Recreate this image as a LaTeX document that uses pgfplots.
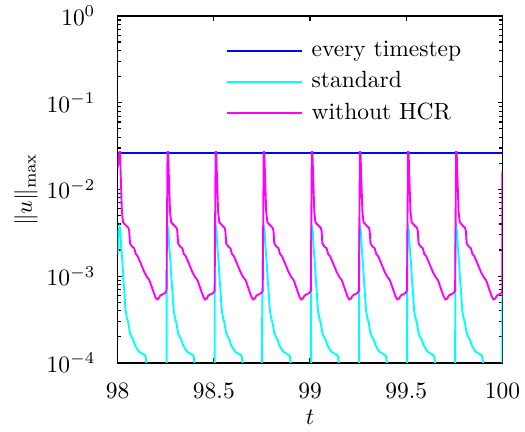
\documentclass[border=0pt]{standalone}
\usepackage{pgfplots}
\pgfplotsset{compat=1.18}
\definecolor{mblue}{rgb}{0,0,1}
\definecolor{mcyan}{rgb}{0,1,1}
\definecolor{mmagenta}{rgb}{1,0,1}

\begin{document}
\begin{tikzpicture}
\begin{semilogyaxis}[
scale only axis,
width=163.8pt,
height=147.7pt,
xmin=98, xmax=100,
ymin=1e-4, ymax=1,
xtick={98,98.5,99,99.5,100},
xticklabels={98,98.5,99,99.5,100},
xlabel={$t$},
ylabel={$\|u\|_{\max}$},
xlabel style={at={(axis description cs:0.5,-0.158)},anchor=center},
ylabel style={at={(axis description cs:-0.238,0.5)},anchor=center},
xticklabel style={yshift=-5pt},
yticklabel style={xshift=-6pt},
major tick length=2pt,
minor tick length=1.4pt,
tick style={black, line width=0.5pt},
axis line style={line width=0.6pt},
legend style={draw=none, fill=none, at={(axis description cs:0.263,0.955)}, anchor=north west, row sep=0.8pt},
legend cell align=left,
legend image code/.code={\draw[#1] (0pt,0pt) -- (32pt,0pt); \path (33.5pt,0pt);},
every axis plot/.append style={line width=0.8pt},
]
% every timestep
\addplot[color=mblue] coordinates {(98,0.026) (100,0.026)};
\addlegendentry{every timestep}

% standard
\addplot[color=mcyan] coordinates {
(98.000,0.0018) (98.005,0.0034)
(98.010,0.0037) (98.014,0.0033) (98.018,0.0022) (98.024,0.0015) (98.030,0.0009) (98.034,0.0007)
(98.041,0.0004) (98.048,0.00033) (98.055,0.00029) (98.064,0.00022) (98.072,0.0002) (98.081,0.000185)
(98.090,0.00016) (98.099,0.000148) (98.110,0.000135) (98.125,0.000129) (98.142,0.000123) (98.146,0.000115)
(98.152,0.00009) (98.160,0.00005)
(98.254,0.00005) (98.255,0.0034)
(98.260,0.0037) (98.264,0.0033) (98.268,0.0022) (98.274,0.0015) (98.280,0.0009) (98.284,0.0007)
(98.291,0.0004) (98.298,0.00033) (98.305,0.00029) (98.314,0.00022) (98.322,0.0002) (98.331,0.000185)
(98.340,0.00016) (98.349,0.000148) (98.360,0.000135) (98.375,0.000129) (98.392,0.000123) (98.396,0.000115)
(98.402,0.00009) (98.410,0.00005)
(98.504,0.00005) (98.505,0.0034)
(98.510,0.0037) (98.514,0.0033) (98.518,0.0022) (98.524,0.0015) (98.530,0.0009) (98.534,0.0007)
(98.541,0.0004) (98.548,0.00033) (98.555,0.00029) (98.564,0.00022) (98.572,0.0002) (98.581,0.000185)
(98.590,0.00016) (98.599,0.000148) (98.610,0.000135) (98.625,0.000129) (98.642,0.000123) (98.646,0.000115)
(98.652,0.00009) (98.660,0.00005)
(98.748,0.00005) (98.755,0.0034)
(98.760,0.0037) (98.764,0.0033) (98.768,0.0022) (98.774,0.0015) (98.780,0.0009) (98.784,0.0007)
(98.791,0.0004) (98.798,0.00033) (98.805,0.00029) (98.814,0.00022) (98.822,0.0002) (98.831,0.000185)
(98.840,0.00016) (98.849,0.000148) (98.860,0.000135) (98.875,0.000129) (98.892,0.000123) (98.896,0.000115)
(98.902,0.00009) (98.910,0.00005)
(99.004,0.00005) (99.005,0.0034)
(99.010,0.0037) (99.014,0.0033) (99.018,0.0022) (99.024,0.0015) (99.030,0.0009) (99.034,0.0007)
(99.041,0.0004) (99.048,0.00033) (99.055,0.00029) (99.064,0.00022) (99.072,0.0002) (99.081,0.000185)
(99.090,0.00016) (99.099,0.000148) (99.110,0.000135) (99.125,0.000129) (99.142,0.000123) (99.146,0.000115)
(99.152,0.00009) (99.160,0.00005)
(99.254,0.00005) (99.255,0.0034)
(99.260,0.0037) (99.264,0.0033) (99.268,0.0022) (99.274,0.0015) (99.280,0.0009) (99.284,0.0007)
(99.291,0.0004) (99.298,0.00033) (99.305,0.00029) (99.314,0.00022) (99.322,0.0002) (99.331,0.000185)
(99.340,0.00016) (99.349,0.000148) (99.360,0.000135) (99.375,0.000129) (99.392,0.000123) (99.396,0.000115)
(99.402,0.00009) (99.410,0.00005)
(99.504,0.00005) (99.505,0.0034)
(99.510,0.0037) (99.514,0.0033) (99.518,0.0022) (99.524,0.0015) (99.530,0.0009) (99.534,0.0007)
(99.541,0.0004) (99.548,0.00033) (99.555,0.00029) (99.564,0.00022) (99.572,0.0002) (99.581,0.000185)
(99.590,0.00016) (99.599,0.000148) (99.610,0.000135) (99.625,0.000129) (99.642,0.000123) (99.646,0.000115)
(99.652,0.00009) (99.660,0.00005)
(99.754,0.00005) (99.755,0.0034)
(99.760,0.0037) (99.764,0.0033) (99.768,0.0022) (99.774,0.0015) (99.780,0.0009) (99.784,0.0007)
(99.791,0.0004) (99.798,0.00033) (99.805,0.00029) (99.814,0.00022) (99.822,0.0002) (99.831,0.000185)
(99.840,0.00016) (99.849,0.000148) (99.860,0.000135) (99.875,0.000129) (99.892,0.000123) (99.896,0.000115)
(99.902,0.00009) (99.910,0.00005)
(99.9995,0.00005) (100.000,0.00064)
};
\addlegendentry{standard}

% without HCR
\addplot[color=mmagenta] coordinates {
(98.000,0.018)
(98.009,0.027) (98.012,0.027) (98.017,0.012) (98.022,0.0055) (98.028,0.0042) (98.036,0.0040)
(98.046,0.0038) (98.056,0.0036) (98.060,0.0033) (98.064,0.0024) (98.074,0.0022) (98.086,0.0021)
(98.094,0.0018) (98.104,0.0017) (98.120,0.0014) (98.138,0.00112) (98.152,0.00098) (98.165,0.0009)
(98.180,0.00072) (98.195,0.00058) (98.203,0.00054) (98.212,0.00055) (98.222,0.0006) (98.235,0.00062)
(98.246,0.00064)
(98.254,0.00068) (98.259,0.027) (98.262,0.027) (98.267,0.012) (98.272,0.0055) (98.278,0.0042) (98.286,0.0040)
(98.296,0.0038) (98.306,0.0036) (98.310,0.0033) (98.314,0.0024) (98.324,0.0022) (98.336,0.0021)
(98.344,0.0018) (98.354,0.0017) (98.370,0.0014) (98.388,0.00112) (98.402,0.00098) (98.415,0.0009)
(98.430,0.00072) (98.445,0.00058) (98.453,0.00054) (98.462,0.00055) (98.472,0.0006) (98.485,0.00062)
(98.496,0.00064)
(98.504,0.00068) (98.509,0.027) (98.512,0.027) (98.517,0.012) (98.522,0.0055) (98.528,0.0042) (98.536,0.0040)
(98.546,0.0038) (98.556,0.0036) (98.560,0.0033) (98.564,0.0024) (98.574,0.0022) (98.586,0.0021)
(98.594,0.0018) (98.604,0.0017) (98.620,0.0014) (98.638,0.00112) (98.652,0.00098) (98.665,0.0009)
(98.680,0.00072) (98.695,0.00058) (98.703,0.00054) (98.712,0.00055) (98.722,0.0006) (98.735,0.00062)
(98.746,0.00064)
(98.754,0.00068) (98.759,0.027) (98.762,0.027) (98.767,0.012) (98.772,0.0055) (98.778,0.0042) (98.786,0.0040)
(98.796,0.0038) (98.806,0.0036) (98.810,0.0033) (98.814,0.0024) (98.824,0.0022) (98.836,0.0021)
(98.844,0.0018) (98.854,0.0017) (98.870,0.0014) (98.888,0.00112) (98.902,0.00098) (98.915,0.0009)
(98.930,0.00072) (98.945,0.00058) (98.953,0.00054) (98.962,0.00055) (98.972,0.0006) (98.985,0.00062)
(98.996,0.00064)
(99.004,0.00068) (99.009,0.027) (99.012,0.027) (99.017,0.012) (99.022,0.0055) (99.028,0.0042) (99.036,0.0040)
(99.046,0.0038) (99.056,0.0036) (99.060,0.0033) (99.064,0.0024) (99.074,0.0022) (99.086,0.0021)
(99.094,0.0018) (99.104,0.0017) (99.120,0.0014) (99.138,0.00112) (99.152,0.00098) (99.165,0.0009)
(99.180,0.00072) (99.195,0.00058) (99.203,0.00054) (99.212,0.00055) (99.222,0.0006) (99.235,0.00062)
(99.246,0.00064)
(99.254,0.00068) (99.259,0.027) (99.262,0.027) (99.267,0.012) (99.272,0.0055) (99.278,0.0042) (99.286,0.0040)
(99.296,0.0038) (99.306,0.0036) (99.310,0.0033) (99.314,0.0024) (99.324,0.0022) (99.336,0.0021)
(99.344,0.0018) (99.354,0.0017) (99.370,0.0014) (99.388,0.00112) (99.402,0.00098) (99.415,0.0009)
(99.430,0.00072) (99.445,0.00058) (99.453,0.00054) (99.462,0.00055) (99.472,0.0006) (99.485,0.00062)
(99.496,0.00064)
(99.504,0.00068) (99.509,0.027) (99.512,0.027) (99.517,0.012) (99.522,0.0055) (99.528,0.0042) (99.536,0.0040)
(99.546,0.0038) (99.556,0.0036) (99.560,0.0033) (99.564,0.0024) (99.574,0.0022) (99.586,0.0021)
(99.594,0.0018) (99.604,0.0017) (99.620,0.0014) (99.638,0.00112) (99.652,0.00098) (99.665,0.0009)
(99.680,0.00072) (99.695,0.00058) (99.703,0.00054) (99.712,0.00055) (99.722,0.0006) (99.735,0.00062)
(99.746,0.00064)
(99.754,0.00068) (99.759,0.027) (99.762,0.027) (99.767,0.012) (99.772,0.0055) (99.778,0.0042) (99.786,0.0040)
(99.796,0.0038) (99.806,0.0036) (99.810,0.0033) (99.814,0.0024) (99.824,0.0022) (99.836,0.0021)
(99.844,0.0018) (99.854,0.0017) (99.870,0.0014) (99.888,0.00112) (99.902,0.00098) (99.915,0.0009)
(99.930,0.00072) (99.945,0.00058) (99.953,0.00054) (99.962,0.00055) (99.972,0.0006) (99.985,0.00062)
(99.996,0.00064)
(99.999,0.00068) (100.000,0.0167)
};
\addlegendentry{without HCR}
\end{semilogyaxis}
\pgfresetboundingbox
\path (-50.1pt,-29.4pt) rectangle (173.4pt,154.5pt);
\end{tikzpicture}
\end{document}
